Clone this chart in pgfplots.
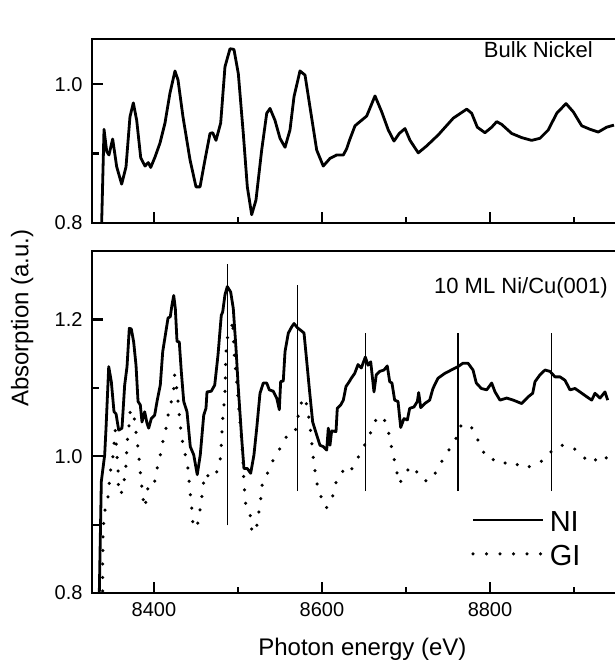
\documentclass[border=0pt]{standalone}
\usepackage{fontspec}
\setmainfont{Liberation Sans}
\usepackage{pgfplots}
\pgfplotsset{compat=1.18}

\pgfplotsset{
  panel/.style={
    scale only axis, width=525pt,
    xmin=8326.2, xmax=8951.2, ymin=0.8,
    axis line style={line width=2.6pt},
    tick align=inside,
    xtick={8400,8600,8800}, minor xtick={8500,8700,8900},
    xtick pos=left, ytick pos=left,
    major tick length=11pt, minor tick length=6.5pt,
    every tick/.style={line width=2.2pt, black},
    tick label style={font=\fontsize{20}{23}\selectfont},
    /pgf/number format/assume math mode=true,
    /pgf/number format/set thousands separator={},
    yticklabel style={/pgf/number format/fixed, /pgf/number format/fixed zerofill,
      /pgf/number format/precision=1, xshift=-6pt},
    xticklabel style={yshift=-6pt},
  },
  curve/.style={black, line width=2.8pt, line join=round},
  dots/.style={black, line width=3.5pt, line cap=round, dash pattern=on 0pt off 13.5pt},
  marker/.style={black, line width=1.1pt, forget plot},
}

\begin{document}
\begin{tikzpicture}
\useasboundingbox (0pt,0pt) rectangle (615pt,-666pt);

% ---------------- top: bulk nickel ----------------
\begin{axis}[panel,
  at={(92pt,-223pt)}, anchor=south west,
  height=184pt, ymax=1.065,
  ytick={0.8,1.0}, minor ytick={0.9},
  xticklabels={},
]
\addplot[curve] coordinates {
(8337.7,0.800) (8340.5,0.935) (8343.7,0.903) (8346.4,0.898) (8350.8,0.921)
(8355.6,0.881) (8361.5,0.856) (8366.7,0.881) (8371.4,0.953) (8375.4,0.973)
(8379.4,0.948) (8384.2,0.894) (8389.3,0.882) (8393.2,0.887) (8396.1,0.880)
(8401.2,0.895) (8407.1,0.915) (8413.1,0.944) (8419.0,0.987) (8425.0,1.019)
(8428.6,1.006) (8434.5,0.953) (8442.9,0.891) (8450.0,0.852) (8454.8,0.852)
(8460.7,0.891) (8466.7,0.929) (8469.9,0.930) (8473.8,0.919) (8479.4,0.944)
(8484.5,1.025) (8490.5,1.051) (8495.2,1.050) (8500.4,1.015) (8506.3,0.929)
(8511.1,0.852) (8516.3,0.812) (8521.4,0.833) (8528.2,0.905) (8534.2,0.958)
(8538.1,0.965) (8544.0,0.948) (8550.0,0.922) (8556.0,0.909) (8561.9,0.934)
(8566.7,0.982) (8573.8,1.019) (8579.8,1.013) (8585.7,0.967) (8593.7,0.905)
(8601.5,0.882) (8609.5,0.893) (8617.5,0.898) (8625.4,0.898) (8629.4,0.907)
(8633.0,0.920) (8639.3,0.940) (8645.2,0.946) (8653.2,0.954) (8663.1,0.983)
(8671.1,0.960) (8678.9,0.934) (8685.7,0.918) (8692.0,0.929) (8698.8,0.936)
(8704.8,0.919) (8714.6,0.901) (8724.6,0.911) (8738.5,0.927) (8756.3,0.951)
(8772.3,0.964) (8778.2,0.958) (8784.9,0.938) (8794.0,0.930) (8802.0,0.938)
(8808.0,0.946) (8813.9,0.942) (8825.8,0.929) (8837.7,0.923) (8849.6,0.919)
(8859.5,0.922) (8869.4,0.934) (8879.4,0.958) (8890.5,0.972) (8899.2,0.960)
(8909.2,0.940) (8919.0,0.935) (8928.9,0.931) (8938.9,0.938) (8947.6,0.941)
};
\node[anchor=base east, font=\fontsize{22}{25}\selectfont, inner sep=0pt]
  at (axis cs:8922.6,1.0390) {Bulk Nickel};
\end{axis}

% ---------------- bottom: 10 ML Ni/Cu(001) ----------------
\begin{axis}[panel,
  at={(92pt,-593pt)}, anchor=south west,
  height=342pt, ymax=1.3,
  ytick={0.8,1.0,1.2}, minor ytick={0.9,1.1},
  xlabel={Photon energy (eV)},
  ylabel={Absorption (a.u.)},
  label style={font=\fontsize{24}{28}\selectfont},
  xlabel style={at={(axis description cs:0.515,-0.123)}, anchor=north},
  ylabel style={at={(axis description cs:-0.133,0.804)}, anchor=center},
  legend cell align=left,
  legend image code/.code={\draw[#1] (0pt,2pt) -- (70pt,2pt);},
  legend style={at={(0.722,0.2377)}, anchor=north west, draw=none, fill=none,
    inner sep=0pt, column sep=5pt, row sep=14pt,
    font=\fontsize{29}{34}\selectfont,
    nodes={inner sep=0pt, text height=20pt, text depth=0pt}},
]
\addplot[curve] coordinates {
(8334.9,0.800) (8337.3,0.963) (8341.3,1.002) (8342.9,1.041) (8346.1,1.131)
(8349.2,1.109) (8352.4,1.065) (8354.8,1.062) (8358.0,1.038) (8361.9,1.041)
(8365.1,1.104) (8367.9,1.131) (8370.6,1.187) (8373.0,1.186) (8375.8,1.167)
(8378.6,1.133) (8381.0,1.080) (8383.7,1.075) (8385.7,1.050) (8388.9,1.065)
(8391.7,1.048) (8393.7,1.041) (8396.8,1.055) (8400.8,1.060) (8403.6,1.080)
(8407.5,1.104) (8410.4,1.153) (8413.5,1.177) (8416.7,1.202) (8419.4,1.204)
(8421.4,1.221) (8423.5,1.235) (8425.4,1.216) (8427.4,1.168) (8430.1,1.167)
(8432.5,1.124) (8435.4,1.080) (8439.3,1.065) (8443.2,1.014) (8447.3,1.002)
(8451.5,0.973) (8455.1,1.002) (8459.2,1.060) (8461.9,1.070) (8463.1,1.094)
(8468.2,1.095) (8472.3,1.104) (8476.2,1.148) (8480.1,1.206) (8481.8,1.211)
(8484.5,1.236) (8487.3,1.248) (8491.3,1.240) (8494.4,1.216) (8497.6,1.158)
(8500.4,1.099) (8504.4,1.026) (8507.1,0.982) (8511.1,0.982) (8515.1,0.975)
(8519.0,1.002) (8522.3,1.041) (8526.2,1.092) (8530.1,1.107) (8534.2,1.107)
(8537.3,1.097) (8542.0,1.095) (8546.1,1.085) (8549.2,1.068) (8550.8,1.109)
(8553.9,1.110) (8556.0,1.153) (8559.9,1.180) (8563.9,1.189) (8566.7,1.194)
(8570.6,1.188) (8575.8,1.183) (8578.6,1.180) (8581.9,1.138) (8584.9,1.099)
(8588.9,1.050) (8593.7,1.031) (8597.6,1.016) (8601.6,1.014) (8605.6,1.009)
(8607.5,1.041) (8609.5,1.016) (8611.5,1.037) (8616.7,1.036) (8618.2,1.070)
(8622.3,1.075) (8625.4,1.082) (8628.6,1.102) (8632.5,1.109) (8634.9,1.114)
(8638.9,1.121) (8642.9,1.134) (8646.8,1.129) (8651.6,1.145) (8654.8,1.133)
(8658.0,1.138) (8661.9,1.094) (8664.6,1.119) (8668.7,1.124) (8673.8,1.126)
(8677.7,1.132) (8680.6,1.109) (8683.3,1.107) (8686.5,1.082) (8690.5,1.080)
(8693.7,1.042) (8697.6,1.055) (8701.6,1.053) (8704.4,1.070) (8709.5,1.072)
(8713.5,1.080) (8715.1,1.093) (8717.5,1.071) (8722.3,1.077) (8728.2,1.082)
(8732.1,1.099) (8738.1,1.114) (8746.1,1.121) (8753.9,1.126) (8761.9,1.131)
(8767.9,1.136) (8773.8,1.136) (8779.8,1.126) (8783.7,1.107) (8789.7,1.099)
(8796.1,1.097) (8802.0,1.107) (8806.0,1.094) (8811.9,1.082) (8819.9,1.085)
(8827.7,1.082) (8837.7,1.077) (8845.6,1.087) (8850.8,1.092) (8853.6,1.109)
(8859.5,1.119) (8865.5,1.126) (8871.4,1.124) (8877.4,1.116) (8883.3,1.116)
(8889.3,1.111) (8895.2,1.097) (8901.2,1.099) (8907.1,1.094) (8915.1,1.087)
(8921.1,1.082) (8925.0,1.092) (8931.0,1.085) (8936.9,1.094) (8940.1,1.082)
};
\addlegendentry{NI}
\addplot[dots] coordinates {
(8338.9,0.803) (8338.9,0.848) (8339.3,0.885) (8340.5,0.910) (8342.0,0.924)
(8345.2,0.940) (8348.0,0.977) (8350.8,0.997) (8352.7,1.021) (8353.9,1.038)
(8355.9,1.002) (8357.1,0.983) (8358.0,0.944) (8363.1,0.949) (8365.1,0.970)
(8366.7,0.989) (8367.5,1.008) (8368.7,1.029) (8370.6,1.049) (8371.8,1.068)
(8375.8,1.063) (8377.7,1.043) (8379.8,1.024) (8381.8,1.003) (8383.0,0.984)
(8384.9,0.964) (8386.5,0.945) (8388.1,0.925) (8390.8,0.935) (8392.9,0.955)
(8396.8,0.953) (8400.8,0.963) (8403.6,0.981) (8407.5,1.002) (8410.4,1.021)
(8414.3,1.041) (8416.7,1.060) (8420.6,1.080) (8423.5,1.099) (8424.6,1.119)
(8427.4,1.097) (8429.4,1.070) (8432.5,1.031) (8435.4,1.012) (8438.1,0.997)
(8441.3,0.977) (8442.0,0.958) (8444.0,0.938) (8445.2,0.919) (8446.4,0.899)
(8451.2,0.895) (8453.9,0.915) (8456.3,0.933) (8458.0,0.954) (8461.1,0.975)
(8468.2,0.967) (8474.2,0.975) (8478.9,0.996) (8480.1,1.016) (8481.3,1.045)
(8483.3,1.075) (8484.5,1.094) (8485.0,1.114) (8485.4,1.136) (8485.7,1.153)
(8487.3,1.173) (8490.5,1.177) (8492.5,1.189) (8493.7,1.199) (8494.4,1.177)
(8495.2,1.158) (8496.4,1.138) (8497.6,1.119) (8499.2,1.099) (8500.4,1.080)
(8501.6,1.060) (8503.2,1.041) (8504.4,1.021) (8505.6,1.002) (8506.3,0.982)
(8507.1,0.960) (8508.3,0.943) (8509.5,0.924) (8515.1,0.912) (8516.3,0.892)
(8521.1,0.888) (8523.5,0.907) (8526.2,0.928) (8528.9,0.960) (8533.0,0.967)
(8538.1,0.986) (8544.9,1.001) (8551.2,1.014) (8558.0,1.029) (8563.9,1.030)
(8569.0,1.040) (8571.8,1.060) (8575.8,1.080) (8580.1,1.086) (8583.0,1.066)
(8585.7,1.047) (8588.9,1.007) (8590.5,0.987) (8592.9,0.969) (8595.6,0.948)
(8601.6,0.935) (8604.8,0.924) (8608.7,0.929) (8614.3,0.947) (8617.5,0.967)
(8626.2,0.980) (8632.5,0.975) (8642.0,0.996) (8648.8,1.012) (8656.8,1.031)
(8663.5,1.052) (8672.6,1.059) (8678.6,1.039) (8681.8,1.019) (8685.4,0.999)
(8688.5,0.980) (8692.5,0.960) (8697.6,0.973) (8706.3,0.986) (8714.3,0.975)
(8721.4,0.964) (8730.1,0.965) (8736.1,0.978) (8742.9,0.993) (8752.0,1.011)
(8759.2,1.025) (8764.6,1.044) (8775.8,1.047) (8783.7,1.029) (8789.7,1.012)
(8796.1,0.997) (8807.1,0.994) (8813.9,0.988) (8823.8,0.993) (8833.7,0.987)
(8838.9,0.982) (8847.6,0.985) (8853.6,0.988) (8859.5,0.990) (8865.5,0.999)
(8875.4,1.009) (8883.3,1.016) (8895.2,1.015) (8905.1,1.007) (8913.1,0.997)
(8921.1,0.990) (8927.0,0.996) (8934.9,1.002) (8944.1,0.990)
};
\addlegendentry{GI}
% vertical guide lines at the peak energies
\addplot[marker] coordinates {(8487.3,0.899) (8487.3,1.281)};
\addplot[marker] coordinates {(8570.6,0.949) (8570.6,1.250)};
\addplot[marker] coordinates {(8651.6,0.949) (8651.6,1.180)};
\addplot[marker] coordinates {(8761.9,0.949) (8761.9,1.180)};
\addplot[marker] coordinates {(8873.4,0.949) (8873.4,1.180)};
\node[anchor=base east, font=\fontsize{22}{25}\selectfont, inner sep=0pt]
  at (axis cs:8940.5,1.2386) {10 ML Ni/Cu(001)};
\end{axis}
\end{tikzpicture}
\end{document}
